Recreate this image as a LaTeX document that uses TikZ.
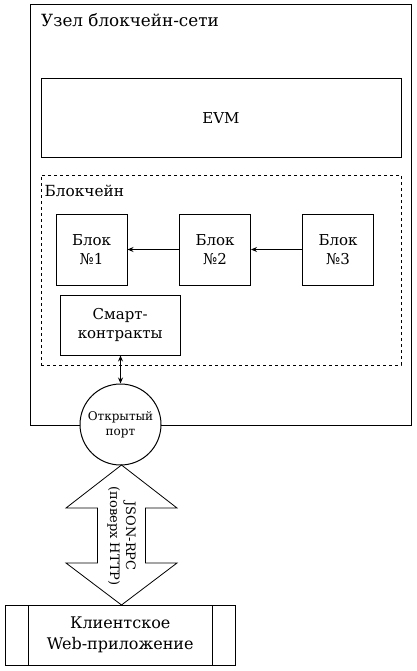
\documentclass[tikz,border=0pt]{standalone}
\usepackage{fontspec}
\setmainfont{DejaVu Serif}
\usetikzlibrary{arrows.meta}
\begin{document}
\begin{tikzpicture}[x=1pt,y=-1pt,
  box/.style={draw,line width=1pt,fill=white,inner sep=0pt,align=center},
  conn/.style={line width=1pt,-{Stealth[length=6pt,width=5pt,inset=2pt]}},
  lbl/.style={inner sep=0pt,anchor=base west}]
\useasboundingbox (0,0) rectangle (417,671);
% outer node box
\node[box,minimum width=381pt,minimum height=420pt] (outer) at (220.5,215) {};
\node[lbl,font=\fontsize{16.8}{19}\selectfont] (title) at (41,26.5) {Узел блокчейн-сети};
% EVM
\node[box,minimum width=360pt,minimum height=79pt,font=\fontsize{15}{18}\selectfont] (evm) at (221,118.5) {EVM};
% blockchain dashed
\node[draw,dashed,dash pattern=on 3pt off 3pt,line width=0.8pt,minimum width=360pt,minimum height=190pt,inner sep=0pt] (chain) at (221,270) {};
\node[lbl,font=\fontsize{15.3}{17}\selectfont] (chainlbl) at (44.5,196.5) {Блокчейн};
% blocks
\tikzset{blk/.style={box,minimum width=71pt,minimum height=71pt,font=\fontsize{15}{19}\selectfont}}
\node[blk] (b1) at (91.5,249.5) {Блок\\№1};
\node[blk] (b2) at (215,249.5) {Блок\\№2};
\node[blk] (b3) at (338,249.5) {Блок\\№3};
\draw[conn] (b2) -- (b1);
\draw[conn] (b3) -- (b2);
% smart contracts
\node[box,minimum width=119.5pt,minimum height=60pt,font=\fontsize{15}{19}\selectfont] (smart) at (120.25,325) {Смарт-\\контракты};
% port
\node[box,circle,minimum size=81pt,font=\fontsize{12}{15}\selectfont] (port) at (120.5,424.5) {Открытый\\порт};
\draw[line width=1pt,{Stealth[length=6pt,width=5pt,inset=2pt]}-{Stealth[length=6pt,width=5pt,inset=2pt]}] (smart.south -| port.north) -- (port.north);
% big double arrow
\draw[line width=0.8pt] (121.5,465) -- (177,508) -- (145.5,508) -- (145.5,563) -- (177,563) -- (121.5,605)
  -- (66,563) -- (97.5,563) -- (97.5,508) -- (66,508) -- cycle;
\node[rotate=-90,align=center,inner sep=0pt,font=\fontsize{13}{16}\selectfont] (rpc) at (121.5,536) {JSON-RPC\\(поверх HTTP)};
% client
\node[box,minimum width=229.5pt,minimum height=59.5pt,font=\fontsize{16}{21}\selectfont] (client) at (120.25,635.25) {Клиентское\\Web-приложение};
\draw[line width=1pt] (28,605.5) -- (28,665);
\draw[line width=1pt] (212,605.5) -- (212,665);
\end{tikzpicture}
\end{document}
